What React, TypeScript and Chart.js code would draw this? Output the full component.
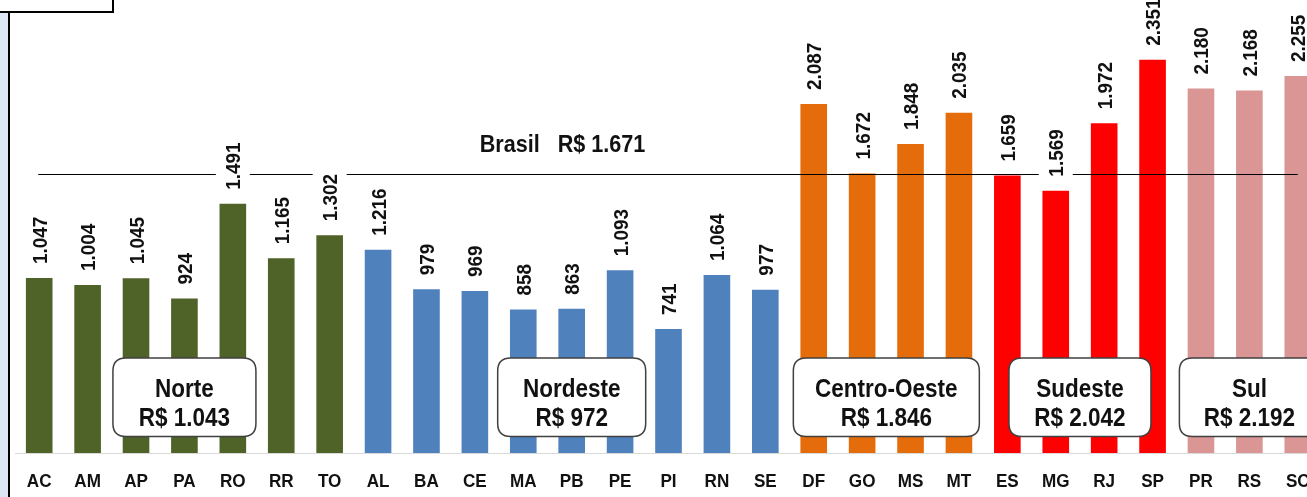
import React, { useEffect, useRef } from "react";
import { Chart, registerables } from "chart.js";

Chart.register(...registerables);

// ---- data ----
const states = ["AC", "AM", "AP", "PA", "RO", "RR", "TO", "AL", "BA", "CE", "MA", "PB", "PE", "PI", "RN", "SE", "DF", "GO", "MS", "MT", "ES", "MG", "RJ", "SP", "PR", "RS", "SC"];
const norteValues = [1047, 1004, 1045, 924, 1491, 1165, 1302];
const nordesteValues = [1216, 979, 969, 858, 863, 1093, 741, 1064, 977];
const centroOesteValues = [2087, 1672, 1848, 2035];
const sudesteValues = [1659, 1569, 1972, 2351];
const sulValues = [2180, 2168, 2255];
const regionNames = ["Norte", "Nordeste", "Centro-Oeste", "Sudeste", "Sul"];
const regionAverages = [1043, 972, 1846, 2042, 2192];
const brasilValue = 1671;
const regionColors = ["#4F6228", "#4F81BD", "#E46C0A", "#FF0000", "#D99694"];
// category position (index) at which each region box is centred
const regionBoxCenters = [3, 11, 17.5, 21.5, 25];
const regionBoxWidths = [143, 148, 186, 142, 140];

const groups = [norteValues, nordesteValues, centroOesteValues, sudesteValues, sulValues];
const values: number[] = groups.flat();
const barColors: string[] = groups.flatMap((g, i) => g.map(() => regionColors[i]));

const FONT = '"Liberation Sans", Arial, sans-serif';
const NARROW = 0.9; // emulate the condensed face of the original
const TEXT = "#111111";

function fmt(n: number): string {
  if (n >= 1000) return Math.floor(n / 1000) + "." + String(n % 1000).padStart(3, "0");
  return String(n);
}

function narrowText(ctx: CanvasRenderingContext2D, text: string, x: number, y: number, size: number, align: CanvasTextAlign) {
  ctx.save();
  ctx.translate(x, y);
  ctx.scale(NARROW, 1);
  ctx.font = `bold ${size}px ${FONT}`;
  ctx.fillStyle = TEXT;
  ctx.textAlign = align;
  ctx.textBaseline = "alphabetic";
  ctx.fillText(text, 0, 0);
  ctx.restore();
}

function roundRect(ctx: CanvasRenderingContext2D, x: number, y: number, w: number, h: number, r: number) {
  ctx.beginPath();
  ctx.moveTo(x + r, y);
  ctx.lineTo(x + w - r, y);
  ctx.quadraticCurveTo(x + w, y, x + w, y + r);
  ctx.lineTo(x + w, y + h - r);
  ctx.quadraticCurveTo(x + w, y + h, x + w - r, y + h);
  ctx.lineTo(x + r, y + h);
  ctx.quadraticCurveTo(x, y + h, x, y + h - r);
  ctx.lineTo(x, y + r);
  ctx.quadraticCurveTo(x, y, x + r, y);
  ctx.closePath();
}

const decorPlugin = {
  id: "decor",
  beforeDraw(chart: any) {
    const ctx = chart.ctx as CanvasRenderingContext2D;
    ctx.save();
    ctx.fillStyle = "#ffffff";
    ctx.fillRect(0, 0, chart.width, chart.height);
    ctx.fillStyle = "#DCE6F4";
    ctx.fillRect(0, 12, 8, chart.height);
    ctx.fillStyle = "#000000";
    ctx.fillRect(8, 12, 2, chart.height);
    ctx.fillStyle = "#ffffff";
    ctx.fillRect(0, 0, 113, 12);
    ctx.strokeStyle = "#000000";
    ctx.lineWidth = 2;
    ctx.strokeRect(-5, -5, 118, 17);
    ctx.restore();
  },
  afterDatasetsDraw(chart: any) {
    const ctx = chart.ctx as CanvasRenderingContext2D;
    const xs = chart.scales.x;
    const ys = chart.scales.y;
    const meta = chart.getDatasetMeta(0);
    ctx.save();

    // Brasil average line
    const yb = Math.round(ys.getPixelForValue(brasilValue)) + 0.5;
    ctx.strokeStyle = "#000000";
    ctx.lineWidth = 1.2;
    ctx.beginPath();
    ctx.moveTo(xs.getPixelForValue(0) - 1, yb);
    ctx.lineTo(xs.getPixelForValue(values.length - 1), yb);
    ctx.stroke();

    // value labels (rotated)
    const lblSize = 21;
    ctx.font = `bold ${lblSize}px ${FONT}`;
    meta.data.forEach((bar: any, i: number) => {
      const text = fmt(values[i]);
      const w = ctx.measureText(text).width * NARROW;
      const start = bar.y - 14;
      ctx.fillStyle = "#ffffff";
      ctx.fillRect(bar.x - 17, start - w - 4, 34, w + 8);
      ctx.save();
      ctx.translate(bar.x, start);
      ctx.rotate(-Math.PI / 2);
      narrowText(ctx, text, 0, (lblSize * 0.716) / 2, lblSize, "left");
      ctx.restore();
    });

    // Brasil text
    narrowText(ctx, "Brasil   R$ " + fmt(brasilValue), xs.getPixelForValue(10.81), yb - 23, 24, "center");

    // region boxes
    const base = ys.getPixelForValue(0);
    regionNames.forEach((name, i) => {
      const cx = xs.getPixelForValue(regionBoxCenters[i]);
      const w = regionBoxWidths[i];
      const top = base - 95;
      const h = 78.5;
      roundRect(ctx, cx - w / 2, top, w, h, 13);
      ctx.fillStyle = "#ffffff";
      ctx.fill();
      ctx.strokeStyle = "#404040";
      ctx.lineWidth = 1.5;
      ctx.stroke();
      narrowText(ctx, name, cx, top + 39, 25, "center");
      narrowText(ctx, "R$ " + fmt(regionAverages[i]), cx, top + 68, 25, "center");
    });
    ctx.restore();
  },
  afterDraw(chart: any) {
    // category labels in the condensed face, positioned by the x scale
    const ctx = chart.ctx as CanvasRenderingContext2D;
    const xs = chart.scales.x;
    const base = chart.chartArea.bottom;
    chart.data.labels.forEach((lab: string, i: number) => {
      narrowText(ctx, lab, xs.getPixelForValue(i), base + 34, 19, "center");
    });
  },
};

export default function App() {
  const ref = useRef<HTMLCanvasElement>(null);
  useEffect(() => {
    if (!ref.current) return;
    const chart = new Chart(ref.current, {
      type: "bar",
      data: {
        labels: states,
        datasets: [
          {
            data: values,
            backgroundColor: barColors,
            borderWidth: 0,
            barPercentage: 0.55,
            categoryPercentage: 1,
          },
        ],
      },
      options: {
        responsive: false,
        devicePixelRatio: 1,
        animation: false,
        layout: { padding: { left: 15, right: 0, top: 0, bottom: 0 } },
        plugins: { legend: { display: false }, tooltip: { enabled: false } },
        scales: {
          x: {
            grid: { display: false, drawTicks: false, tickLength: 0 },
            border: { display: true, color: "#D9D9D9", width: 1 },
            ticks: {
              padding: 10,
              autoSkip: false,
              maxRotation: 0,
              color: "rgba(0,0,0,0)",
              font: { family: FONT, size: 19, weight: "bold" },
            },
            afterFit: (scale: any) => {
              scale.height = 44;
            },
          },
          y: { display: false, min: 0, max: 2709 },
        },
      },
      plugins: [decorPlugin],
    } as any);
    return () => chart.destroy();
  }, []);
  return (
    <div style={{ position: "fixed", left: 0, top: 0, width: 1307, height: 497, overflow: "hidden", background: "#fff" }}>
      <canvas ref={ref} width={1322} height={497} style={{ display: "block", width: 1322, height: 497 }} />
    </div>
  );
}
